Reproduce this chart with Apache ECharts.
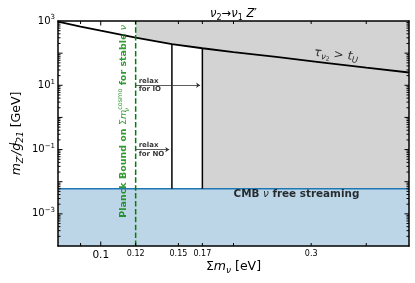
<!DOCTYPE html>
<html><head><meta charset="utf-8">
<script src="https://cdn.jsdelivr.net/npm/echarts@6/dist/echarts.min.js"></script>
<style>html,body{margin:0;padding:0;background:#fff}#c{width:415px;height:283px}</style>
</head><body><div id="c"></div>
<script>
// ---- data ----
const curveX = [0.08, 0.09, 0.1, 0.12, 0.145, 0.17, 0.2, 0.25, 0.316, 0.4, 0.5];
const curveY = [950, 674, 501, 302, 192, 142, 108, 76, 52, 35.5, 25];
const planckBound = 0.12;
const noBound = 0.145;
const ioBound = 0.17;
const cmbLimit = 6e-3;
const xRange = [0.08, 0.5];
const yRange = [1e-4, 1e3];
const ioArrow = [0.12, 0.168], ioArrowY = 10;
const noArrow = [0.12, 0.143], noArrowY = 0.1;
const xTickLabels = [0.1, 0.12, 0.15, 0.17, 0.3];
const xMajorTicks = [0.1];
const xMinorTicks = [0.09, 0.12, 0.15, 0.17, 0.2, 0.3, 0.4];
const yTickLabels = [1e-3, 1e-1, 1e1, 1e3];
const yMajorTicks = [1e-3, 1e-2, 1e-1, 1, 1e1, 1e2];
const yMinorTicks = [];
for (let e = -4; e < 3; e++) for (let m = 2; m <= 9; m++) yMinorTicks.push(m * Math.pow(10, e));

const F = 'DejaVu Sans';
const pts = curveX.map((x, i) => [x, curveY[i]]);
const yAt = x => curveY[curveX.indexOf(x)];
const grayTop = pts.filter(p => p[0] >= planckBound);
const grayBelow = pts.filter(p => p[0] >= ioBound);

function nearest(arr, v) {
  return arr.reduce((a, b) => Math.abs(Math.log(b / v)) < Math.abs(Math.log(a / v)) ? b : a);
}

function xAx(pos, withLabels) {
  const a = {
    type: 'log', logBase: 10, min: xRange[0], max: xRange[1], position: pos, z: 10,
    axisLine: {show: true, onZero: false, lineStyle: {color: '#000', width: 1.5}},
    axisTick: {show: false}, splitLine: {show: false}, minorTick: {show: false},
    axisLabel: {show: false}
  };
  if (withLabels) {
    a.axisLabel = {
      show: true, customValues: xTickLabels, margin: 4, color: '#000', fontFamily: F,
      formatter: v => { const l = nearest(xTickLabels, v); return l === 0.1 ? '{b|0.1}' : '{s|' + l + '}'; },
      rich: {b: {fontSize: 10.5, fontFamily: F, color: '#000'}, s: {fontSize: 8, fontFamily: F, color: '#000'}}
    };
    a.name = '{t|Σ}{i|m}{sub|ν} {t|[eV]}';
    a.nameLocation = 'middle';
    a.nameGap = 13;
    a.nameMoveOverlap = false;
    a.nameTextStyle = {fontFamily: F, fontSize: 12.5, color: '#000', lineHeight: 16, rich: {
      t: {fontSize: 12.5, fontFamily: F, color: '#000', lineHeight: 16},
      i: {fontSize: 12.5, fontFamily: F, fontStyle: 'italic', color: '#000', lineHeight: 16},
      sub: {fontSize: 9, fontFamily: F, fontStyle: 'italic', color: '#000', lineHeight: 10, verticalAlign: 'bottom'}
    }};
  }
  return a;
}
function yAx(pos, withLabels) {
  const a = {
    type: 'log', logBase: 10, min: yRange[0], max: yRange[1], position: pos, z: 10,
    axisLine: {show: true, onZero: false, lineStyle: {color: '#000', width: 1.5}},
    axisTick: {show: false}, splitLine: {show: false}, minorTick: {show: false},
    axisLabel: {show: false}
  };
  if (withLabels) {
    a.axisLabel = {
      show: true, customValues: yTickLabels, margin: 3, color: '#000', fontFamily: F, fontSize: 10, lineHeight: 14,
      formatter: v => { const e = Math.round(Math.log10(v)); return '10{sup|' + (e < 0 ? '−' : '') + Math.abs(e) + '}'; },
      rich: {sup: {fontSize: 7, fontFamily: F, color: '#000', lineHeight: 8, verticalAlign: 'top'}}
    };
    a.name = '{i|m}{sub|Z′}{i|/g}{sup|L}{sub|21} {t|[GeV]}';
    a.nameLocation = 'middle';
    a.nameGap = 33;
    a.nameMoveOverlap = false;
    a.nameTextStyle = {fontFamily: F, fontSize: 12.5, color: '#000', lineHeight: 16, rich: {
      t: {fontSize: 12.5, fontFamily: F, color: '#000', lineHeight: 16},
      i: {fontSize: 12.5, fontFamily: F, fontStyle: 'italic', color: '#000', lineHeight: 16},
      sub: {fontSize: 9, fontFamily: F, fontStyle: 'italic', color: '#000', lineHeight: 10, verticalAlign: 'bottom'},
      sup: {fontSize: 9, fontFamily: F, fontStyle: 'italic', color: '#000', lineHeight: 10, verticalAlign: 'top', width: 0.01}
    }};
  }
  return a;
}

// inward tick marks, one series per side and length, positioned by the axis scales
function tickSeries(values, side, len) {
  const isX = side === 'bottom' || side === 'top';
  const data = values.map(v => side === 'bottom' ? [v, yRange[0]] : side === 'top' ? [v, yRange[1]]
    : side === 'left' ? [xRange[0], v] : [xRange[1], v]);
  const off = {bottom: [0, -len / 2], top: [0, len / 2], left: [len / 2, 0], right: [-len / 2, 0]}[side];
  return {type: 'scatter', symbol: 'rect', data: data, z: 11, silent: true, clip: false,
    symbolSize: isX ? [1, len] : [len, 1], symbolOffset: off,
    itemStyle: {color: '#000', opacity: 1}, label: {show: false}};
}

const txt = (data, label, z) => ({type: 'scatter', data: data, symbolSize: 0, z: z || 8, silent: true, label: Object.assign({show: true, fontFamily: F, color: '#000'}, label)});
const line = (data, style, z) => ({type: 'line', data: data, symbol: 'none', z: z || 5, silent: true, lineStyle: style, clip: true});

const option = {
  animation: false,
  backgroundColor: '#fff',
  grid: {left: 58, top: 21, right: 6, bottom: 37, containLabel: false, outerBoundsMode: 'none'},
  title: {
    text: '{i|ν}{s|2}→{i|ν}{s|1} {i|Z}′', left: 233.5, top: 6, padding: 0, textAlign: 'center',
    textStyle: {fontFamily: F, fontSize: 11.5, fontWeight: 'normal', color: '#000', lineHeight: 16, rich: {
      i: {fontFamily: F, fontSize: 11.5, fontStyle: 'italic', color: '#000', lineHeight: 16},
      s: {fontFamily: F, fontSize: 8, color: '#000', lineHeight: 10, verticalAlign: 'bottom'}
    }}
  },
  xAxis: [xAx('bottom', true), xAx('top', false)],
  yAxis: [yAx('left', true), yAx('right', false)],
  series: [
    // gray excluded region above the lifetime curve
    {type: 'line', data: grayTop, symbol: 'none', z: 1, silent: true, lineStyle: {width: 0}, areaStyle: {color: '#d3d3d3', opacity: 1, origin: yRange[1]}},
    {type: 'line', data: grayBelow, symbol: 'none', z: 1, silent: true, lineStyle: {width: 0}, areaStyle: {color: '#d3d3d3', opacity: 1, origin: yRange[0]}},
    // CMB free streaming band
    {type: 'line', data: [[xRange[0], cmbLimit], [xRange[1], cmbLimit]], symbol: 'none', z: 2, silent: true,
      lineStyle: {color: '#1f77b4', width: 1.5}, areaStyle: {color: '#bcd6e8', opacity: 1, origin: yRange[0]}},
    line(pts, {color: '#000', width: 1.8}),
    line([[noBound, cmbLimit], [noBound, yAt(noBound)]], {color: '#000', width: 1.5}),
    line([[ioBound, cmbLimit], [ioBound, yAt(ioBound)]], {color: '#000', width: 1.5}),
    line([[planckBound, yRange[0]], [planckBound, yRange[1]]], {color: '#008000', width: 1.5, type: [5.5, 2.4]}, 6),
    {type: 'lines', coordinateSystem: 'cartesian2d', z: 7, silent: true, symbol: ['none', 'arrow'], symbolSize: 4,
      lineStyle: {color: '#333', width: 0.8, opacity: 1},
      data: [{coords: [[ioArrow[0], ioArrowY], [ioArrow[1], ioArrowY]]}, {coords: [[noArrow[0], noArrowY], [noArrow[1], noArrowY]]}]},
    txt([[planckBound, ioArrowY]], {position: 'right', distance: 3, formatter: 'relax\nfor IO', fontSize: 7, fontWeight: 'bold', lineHeight: 8.7}),
    txt([[planckBound, noArrowY]], {position: 'right', distance: 3, formatter: 'relax\nfor NO', fontSize: 7, fontWeight: 'bold', lineHeight: 8.7}),
    txt([[0.2, 4e-3]], {position: 'right', distance: 0, formatter: '{b|CMB }{i|ν}{b| free streaming}',
      rich: {b: {fontFamily: F, fontSize: 10.4, fontWeight: 'bold', color: '#000'}, i: {fontFamily: F, fontSize: 10.4, fontStyle: 'italic', color: '#000'}}}),
    txt([[0.342, 87.5]], {position: 'inside', rotate: -6, formatter: '{i|τ}{s|ν}{ss|2}{t| > }{i|t}{s|U}',
      lineHeight: 16,
      rich: {i: {fontFamily: F, fontSize: 12, fontStyle: 'italic', color: '#000', lineHeight: 16},
             t: {fontFamily: F, fontSize: 12, color: '#000', lineHeight: 16},
             s: {fontFamily: F, fontSize: 8.5, fontStyle: 'italic', color: '#000', lineHeight: 10, verticalAlign: 'bottom'},
             ss: {fontFamily: F, fontSize: 6, color: '#000', lineHeight: 7, verticalAlign: 'bottom'}}}),
    txt([[planckBound, 0.757]], {position: 'inside', rotate: 90, offset: [0, -12],
      formatter: '{b|Planck Bound on }{m|Σ}{mi|m}{sub|ν}{sup|cosmo}{b| for stable }{mi|ν}',
      lineHeight: 14,
      rich: {b: {fontFamily: F, fontSize: 9.5, fontWeight: 'bold', color: '#008000', lineHeight: 14},
             m: {fontFamily: F, fontSize: 9.5, color: '#008000', lineHeight: 14},
             mi: {fontFamily: F, fontSize: 9.5, fontStyle: 'italic', color: '#008000', lineHeight: 14},
             sub: {fontFamily: F, fontSize: 6.5, fontStyle: 'italic', color: '#008000', lineHeight: 8, verticalAlign: 'bottom', width: 0.01},
             sup: {fontFamily: F, fontSize: 6.5, color: '#008000', lineHeight: 8, verticalAlign: 'top'}}}, 9),
    tickSeries(yMajorTicks, 'left', 4.5),
    tickSeries(yMajorTicks, 'right', 4.5),
    tickSeries(yMinorTicks, 'left', 2.5),
    tickSeries(yMinorTicks, 'right', 2.5),
    tickSeries(xMajorTicks, 'bottom', 4.5),
    tickSeries(xMajorTicks, 'top', 4.5),
    tickSeries(xMinorTicks, 'bottom', 3),
    tickSeries(xMinorTicks, 'top', 3)
  ]
};
option.series.forEach(s => { s.xAxisIndex = 0; s.yAxisIndex = 0; });
const chart = echarts.init(document.getElementById('c'), null, {renderer: 'canvas'});
chart.setOption(option);
</script></body></html>
